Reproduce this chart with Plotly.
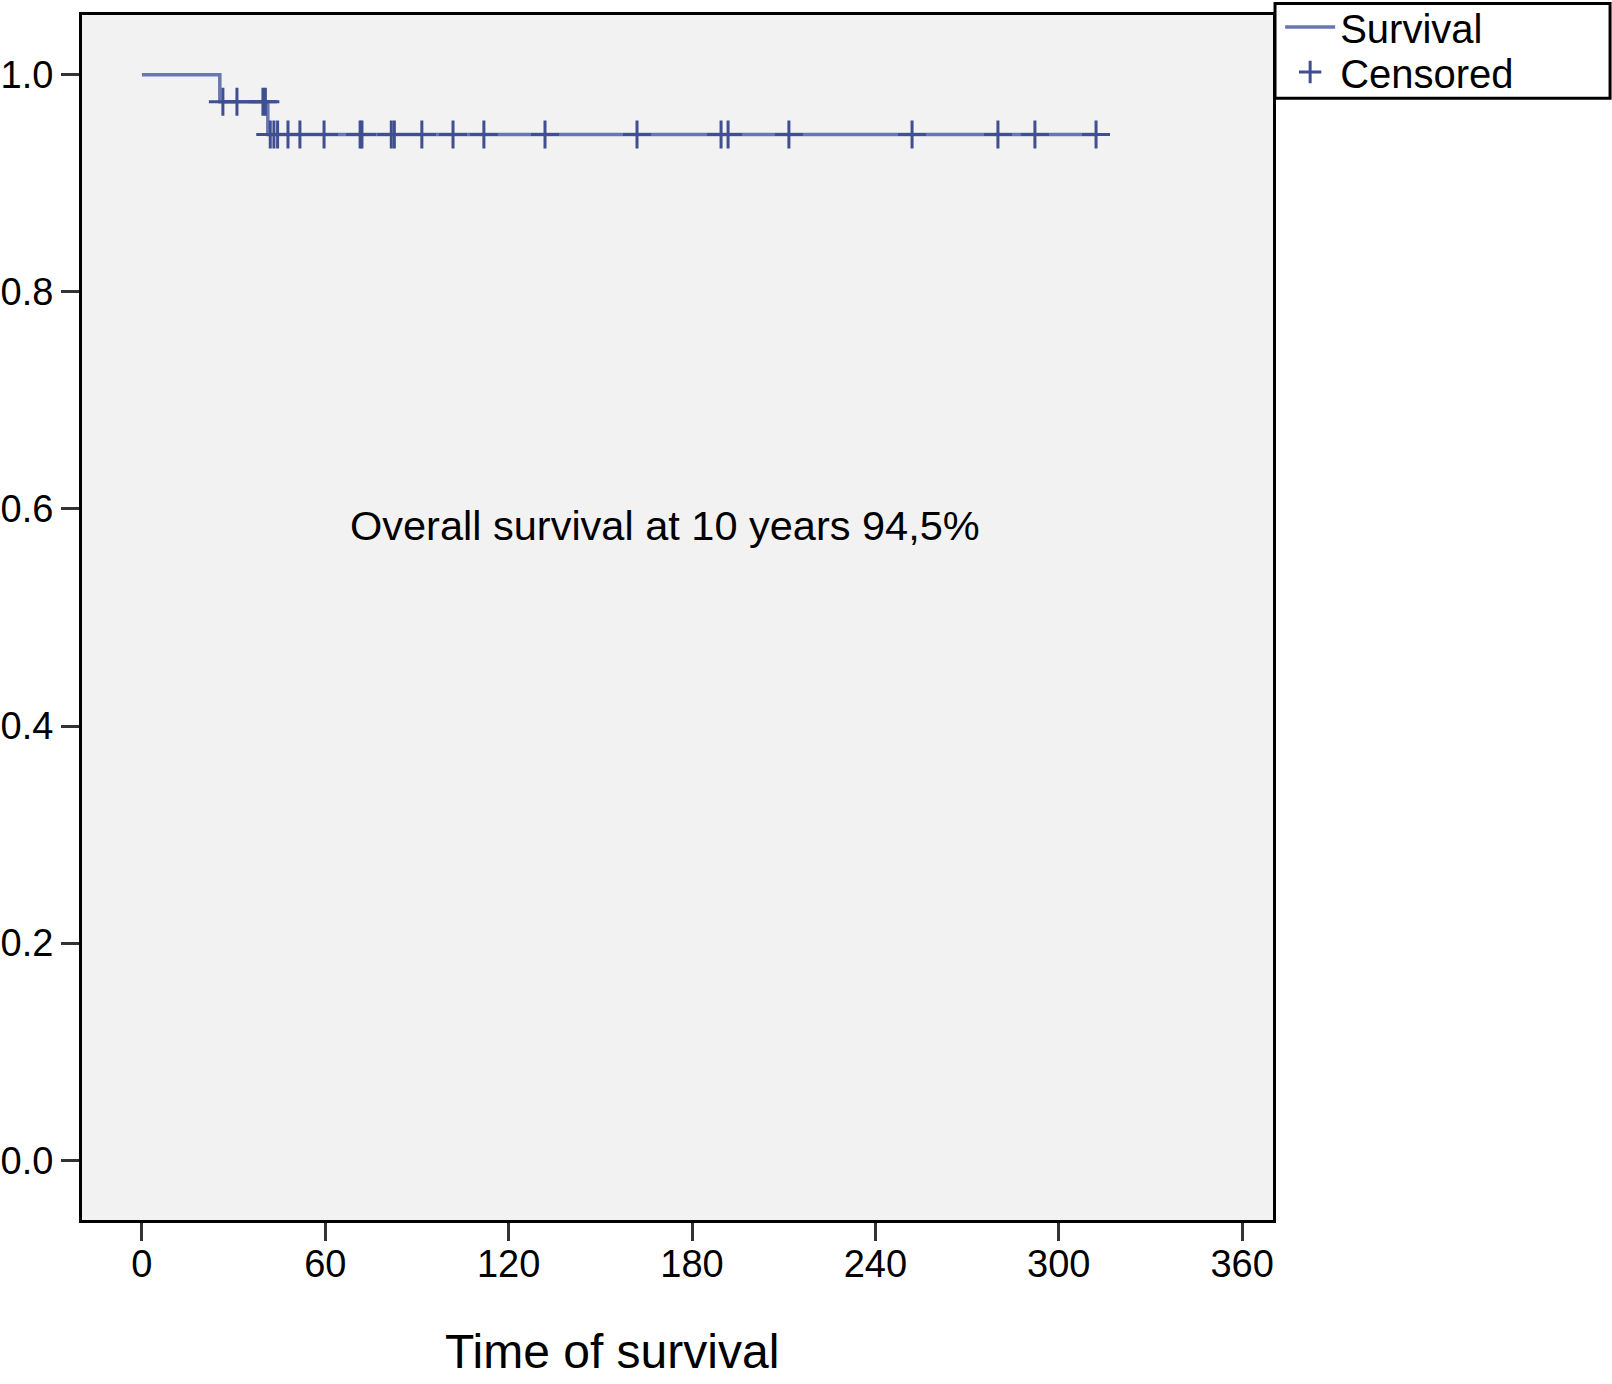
import numpy as np
import plotly.graph_objects as go

# ---- data ----
event_times = [0, 25.5, 41.2]
survival = [1.0, 0.975, 0.945]
censor_times = [26.5, 31.1, 39.6, 40.4, 42.0, 43.2, 44.4, 47.8, 51.7, 59.6,
                71.4, 72.0, 81.6, 82.6, 91.6, 101.8, 111.9, 131.9, 162.0,
                189.5, 191.8, 211.7, 252.0, 280.1, 292.2, 312.2]
x_ticks = [0, 60, 120, 180, 240, 300, 360]
y_ticks = [0.0, 0.2, 0.4, 0.6, 0.8, 1.0]
annotation_text = "Overall survival at 10 years 94,5%"
x_title = "Time of survival"

# step-function lookup of survival at censoring times
ev = np.array(event_times)
sv = np.array(survival)
idx = np.searchsorted(ev, np.array(censor_times), side="right") - 1
censor_surv = sv[idx]

line_x = event_times + [censor_times[-1]]
line_y = survival + [survival[-1]]

LINE_COLOR = "#6677b3"
MARK_COLOR = "#3f4f8f"

fig = go.Figure()
fig.add_trace(go.Scatter(
    x=line_x, y=line_y, mode="lines", name="Survival",
    line=dict(color=LINE_COLOR, width=3.5, shape="hv"),
    legend="legend",
))
fig.add_trace(go.Scatter(
    x=censor_times, y=censor_surv, mode="markers", name="Censored",
    marker=dict(symbol="cross-thin", size=20, color=MARK_COLOR,
                line=dict(color=MARK_COLOR, width=3)),
    legend="legend2",
))

fig.add_annotation(
    x=171.2, y=0.585, xref="x", yref="y", text=annotation_text,
    showarrow=False, xanchor="center", yanchor="middle",
    font=dict(family="Liberation Sans", size=41.5, color="black"),
)
fig.add_annotation(
    x=153.8, y=-0.1095, xref="x", yref="paper", text=x_title,
    showarrow=False, xanchor="center", yanchor="middle",
    font=dict(family="Liberation Sans", size=48, color="black"),
)

# legend frame
fig.add_shape(
    type="rect", xref="paper", yref="paper",
    x0=1.0017, x1=1.283, y0=0.931, y1=1.0095,
    line=dict(color="black", width=3), fillcolor="rgba(0,0,0,0)",
)

axis_common = dict(
    showline=True, linecolor="black", linewidth=3, mirror=True,
    ticks="outside", ticklen=18, tickwidth=3, tickcolor="#333333",
    showgrid=False, zeroline=False, automargin=False,
    tickfont=dict(family="Liberation Sans", size=38, color="black"),
)

legend_common = dict(
    xanchor="left", yanchor="middle",
    borderwidth=0, bgcolor="rgba(0,0,0,0)",
    font=dict(family="Liberation Sans", size=40, color="black"),
    itemwidth=50,
)

fig.update_layout(
    width=1612, height=1384,
    margin=dict(l=82, r=339, t=15, b=164, autoexpand=False),
    paper_bgcolor="white", plot_bgcolor="#f2f2f2",
    xaxis=dict(range=[-19.6, 370.1], tickvals=x_ticks, ticklabelstandoff=-10,
               **axis_common),
    yaxis=dict(range=[-0.055, 1.055], tickvals=y_ticks, tickformat=".1f", **axis_common),
    showlegend=True,
    legend=dict(x=1.006, y=0.990, **legend_common),
    legend2=dict(x=1.006, y=0.9527, **legend_common),
)

fig.write_html("out.html", config={"displayModeBar": False},
               post_script="document.body.style.margin='0px';")
